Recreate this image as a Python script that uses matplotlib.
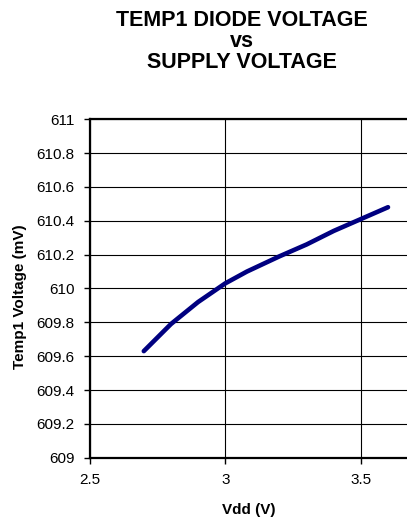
import matplotlib
matplotlib.use('Agg')
import matplotlib.pyplot as plt

plt.rcParams['font.family'] = ['Liberation Sans', 'DejaVu Sans']

# Supply voltage (V) and TEMP1 diode voltage (mV)
vdd = [2.7, 2.8, 2.9, 3.0, 3.08, 3.2, 3.3, 3.4, 3.5, 3.6]
temp1_mv = [609.63, 609.79, 609.92, 610.03, 610.10, 610.19, 610.26, 610.34, 610.41, 610.48]

y_ticks = [609, 609.2, 609.4, 609.6, 609.8, 610, 610.2, 610.4, 610.6, 610.8, 611]
y_labels = ['609', '609.2', '609.4', '609.6', '609.8', '610', '610.2', '610.4', '610.6', '610.8', '611']
x_ticks = [2.5, 3, 3.5]
x_labels = ['2.5', '3', '3.5']

fig = plt.figure(figsize=(4.07, 5.25), dpi=100)
# plot area runs past the right edge of the picture, as in the original
ax = fig.add_axes([0.22, 0.128, 1.0, 0.645])

ax.plot(vdd, temp1_mv, color='#000080', linewidth=3.3, solid_capstyle='round')

ax.set_xlim(2.5, 4.0)
ax.set_ylim(609, 611)
ax.set_xticks(x_ticks)
ax.set_xticklabels(x_labels, fontsize=11)
ax.set_yticks(y_ticks)
ax.set_yticklabels(y_labels, fontsize=11)
ax.tick_params(direction='out', length=4, width=1, pad=7)

ax.grid(True, color='black', linewidth=0.8)
ax.set_axisbelow(True)
for s in ['left', 'bottom', 'top']:
    ax.spines[s].set_linewidth(1.6)

fig.text(0.595, 0.95, 'TEMP1 DIODE VOLTAGE', ha='center', va='baseline',
         fontsize=15.5, fontweight='bold')
fig.text(0.595, 0.911, 'vs', ha='center', va='baseline', fontsize=15.5, fontweight='bold')
fig.text(0.595, 0.87, 'SUPPLY VOLTAGE', ha='center', va='baseline',
         fontsize=15.5, fontweight='bold')

fig.text(0.612, 0.028, 'Vdd (V)', ha='center', va='center', fontsize=11, fontweight='bold')
fig.text(0.05, 0.435, 'Temp1 Voltage (mV)', ha='center', va='center', rotation=90,
         fontsize=11, fontweight='bold')

plt.savefig('out.png', dpi=100)
